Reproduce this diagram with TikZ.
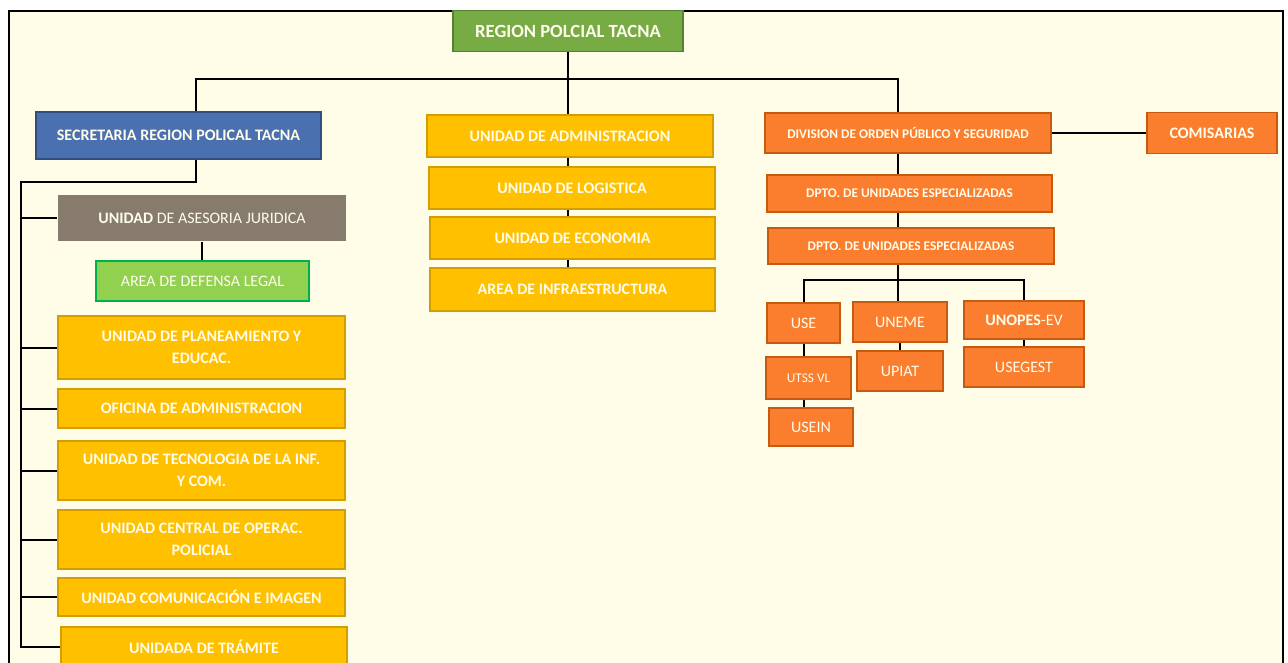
\documentclass[tikz,border=0pt]{standalone}
\usepackage{fontspec}
\setmainfont{Carlito}
\usetikzlibrary{backgrounds}
\definecolor{bgc}{RGB}{255,253,232}
\definecolor{grn}{RGB}{119,171,67}
\definecolor{grnd}{RGB}{88,128,50}
\definecolor{blu}{RGB}{74,112,175}
\definecolor{blud}{RGB}{50,78,128}
\definecolor{gry}{RGB}{134,123,108}
\definecolor{lgr}{RGB}{146,208,80}
\definecolor{lgrd}{RGB}{0,176,80}
\definecolor{yel}{RGB}{255,192,0}
\definecolor{yeld}{RGB}{212,158,0}
\definecolor{org}{RGB}{250,126,45}
\definecolor{orgd}{RGB}{197,90,17}
\definecolor{txt}{RGB}{255,252,236}
\begin{document}
\begin{tikzpicture}[x=1pt,y=-1pt,
  box/.style={rectangle, line width=1.2pt, text=txt, align=center, inner sep=2pt,
    font=\fontsize{16}{22}\selectfont\bfseries},
  ybox/.style={box, fill=yel, draw=yeld},
  obox/.style={box, fill=org, draw=orgd},
  small/.style={font=\fontsize{13.3}{16}\selectfont\bfseries},
  reg/.style={font=\fontsize{16}{22}\selectfont},
  con/.style={line width=2pt, black}]
\clip (0,0) rectangle (1288,663);
\begin{pgfonlayer}{background}
\fill[white] (0,0) rectangle (1288,663);
\fill[bgc] (9,11) rectangle (1283,700);
\end{pgfonlayer}
\draw[line width=1.5pt] (9,700) -- (9,11) -- (1283,11) -- (1283,700);

% top
\node[box, fill=grn, draw=grnd, minimum width=230pt, minimum height=41pt,
  font=\fontsize{18.6}{22}\selectfont\bfseries] (top) at (568,31) {REGION POLCIAL TACNA};

% left column
\node[box, fill=blu, draw=blud, minimum width=285pt, minimum height=47pt] (sec) at (178.5,135.5) {SECRETARIA REGION POLICAL TACNA};
\node[box, fill=gry, draw=none, minimum width=288pt, minimum height=46pt] (ase) at (202,218) {UNIDAD \mdseries DE ASESORIA JURIDICA};
\node[box, fill=lgr, draw=lgrd, reg, minimum width=213pt, minimum height=40pt] (def) at (202.5,281) {AREA DE DEFENSA LEGAL};
\node[ybox, minimum width=287pt, minimum height=63pt] (plan) at (201.5,347.5) {UNIDAD DE PLANEAMIENTO Y\\EDUCAC.};
\node[ybox, minimum width=287pt, minimum height=39pt] (ofi) at (201.5,408.5) {OFICINA DE ADMINISTRACION};
\node[ybox, minimum width=287pt, minimum height=59pt] (tec) at (201.5,470.5) {UNIDAD DE TECNOLOGIA DE LA INF.\\Y COM.};
\node[ybox, minimum width=287pt, minimum height=59pt] (cen) at (201.5,539.5) {UNIDAD CENTRAL DE OPERAC.\\POLICIAL};
\node[ybox, minimum width=287pt, minimum height=38pt] (com) at (201.5,597) {UNIDAD COMUNICACIÓN E IMAGEN};
\node[ybox, minimum width=286pt, minimum height=40pt] (tra) at (204,647) {UNIDADA DE TRÁMITE};

% middle column
\node[ybox, minimum width=286pt, minimum height=42pt] (adm) at (570,136) {UNIDAD DE ADMINISTRACION};
\node[ybox, minimum width=286pt, minimum height=42pt] (log) at (572,188) {UNIDAD DE LOGISTICA};
\node[ybox, minimum width=285pt, minimum height=42pt] (eco) at (572.5,238) {UNIDAD DE ECONOMIA};
\node[ybox, minimum width=285pt, minimum height=43pt] (inf) at (572.5,289.5) {AREA DE INFRAESTRUCTURA};

% right column
\node[obox, small, minimum width=286pt, minimum height=40pt] (div) at (908,133) {DIVISION DE ORDEN PÚBLICO Y SEGURIDAD};
\node[obox, minimum width=130pt, minimum height=41pt] (comi) at (1212,133) {COMISARIAS};
\node[obox, small, minimum width=285pt, minimum height=37pt] (dp1) at (909.5,193.5) {DPTO. DE UNIDADES ESPECIALIZADAS};
\node[obox, small, minimum width=286pt, minimum height=36pt] (dp2) at (911,246) {DPTO. DE UNIDADES ESPECIALIZADAS};
\node[obox, reg, minimum width=73pt, minimum height=40pt] (use) at (803.5,323) {USE};
\node[obox, reg, minimum width=94pt, minimum height=40pt] (uneme) at (900,322) {UNEME};
\node[obox, minimum width=120pt, minimum height=38pt] (unopes) at (1024,320) {UNOPES\mdseries-EV};
\node[obox, reg, font=\fontsize{13.3}{16}\selectfont, minimum width=85pt, minimum height=42pt] (utss) at (808.5,378) {UTSS VL};
\node[obox, reg, minimum width=86pt, minimum height=40pt] (upiat) at (900,371) {UPIAT};
\node[obox, reg, minimum width=120pt, minimum height=40pt] (usegest) at (1024,367) {USEGEST};
\node[obox, reg, minimum width=84pt, minimum height=38pt] (usein) at (811,427) {USEIN};

\coordinate (bL) at (196,79);
\coordinate (bR) at (898,79);
\coordinate (tk) at (21,182);
\coordinate (b2) at (898,280);

\begin{pgfonlayer}{background}
% main bus
\draw[con] (top.south) -- (top.south |- inf.south);
\draw[con] (sec.north -| bL) -- (bL) -- (bR) -- (bR |- div.north);
% left trunk
\draw[con] (sec.south -| bL) -- (bL |- tk) -- (tk) -- (tk |- tra.west) -- (tra.west);
\foreach \n in {ase,plan,ofi,tec,cen,com}{
  \draw[con] (tk |- \n.west) -- (\n.west);
}
\draw[con] (ase.south) -- (ase.south |- def.north);
% right
\draw[con] (div.east) -- (div.east -| comi.west);
\draw[con] (bR |- div.south) -- (b2);
\draw[con] (use.north) |- (b2) -| (unopes.north);
\draw[con] (b2) -- (b2 |- uneme.north);
\draw[con] (use.south) -- (use.south |- usein.north);
\draw[con] (uneme.south) -- (upiat.north);
\draw[con] (unopes.south) -- (unopes.south |- usegest.north);
\end{pgfonlayer}
\end{tikzpicture}
\end{document}
